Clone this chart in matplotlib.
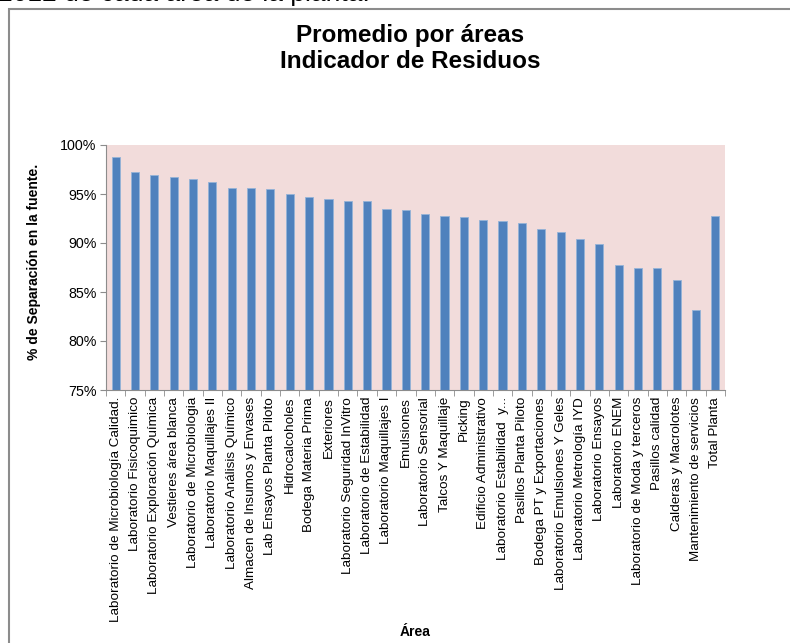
import matplotlib.pyplot as plt
from matplotlib.patches import Rectangle
from matplotlib.ticker import FixedLocator, PercentFormatter

plt.rcParams['font.family'] = ['Liberation Sans', 'DejaVu Sans']

# areas and average separation percentage
areas = [
    'Laboratorio de Microbiología Calidad.',
    'Laboratorio Fisicoquimico',
    'Laboratorio Exploración Química',
    'Vestieres área blanca',
    'Laboratorio de Microbiologia',
    'Laboratorio Maquillajes II',
    'Laboratorio Análisis Químico',
    'Almacen de Insumos y Envases',
    'Lab Ensayos Planta Piloto',
    'Hidrocalcoholes',
    'Bodega Materia Prima',
    'Exteriores',
    'Laboratorio Seguridad InVitro',
    'Laboratorio de Estabilidad',
    'Laboratorio Maquillajes I',
    'Emulsiones',
    'Laboratorio Sensorial',
    'Talcos Y Maquillaje',
    'Picking',
    'Edificio Administrativo',
    'Laboratorio Estabilidad  y...',
    'Pasillos Planta Piloto',
    'Bodega PT y Exportaciones',
    'Laboratorio Emulsiones Y Geles',
    'Laboratorio Metrología IYD',
    'Laboratorio Ensayos',
    'Laboratorio ENEM',
    'Laboratorio de Moda y terceros',
    'Pasillos calidad',
    'Calderas y Macrolotes',
    'Mantenimiento de servicios',
    'Total Planta',
]
values = [98.8, 97.2, 96.9, 96.7, 96.5, 96.2, 95.6, 95.6, 95.5, 95.0,
          94.7, 94.5, 94.3, 94.3, 93.5, 93.4, 93.0, 92.8, 92.7, 92.3,
          92.2, 92.0, 91.4, 91.1, 90.4, 89.9, 87.8, 87.5, 87.5, 86.2,
          83.2, 92.8]
y_ticks = [75, 80, 85, 90, 95, 100]

fig = plt.figure(figsize=(7.9, 6.43), dpi=100)

# text of the document above the chart (cut off at the top, as in the source page)
fig.text(-0.003, 1 - 0.8 / 643, '2012 de cada área de la planta.', fontsize=19,
         va='baseline', ha='left')

# chart frame
fig.patches.append(Rectangle((9 / 790, -0.1), 1.2, 1.1 - 9 / 643, transform=fig.transFigure,
                             fill=False, edgecolor='#8c8c8c', linewidth=1.5))

ax = fig.add_axes([106 / 790, 1 - 390 / 643, 619 / 790, 245 / 643])
ax.set_facecolor('#f2dcdb')

x = range(len(areas))
ax.bar(x, values, width=0.42, color='#4f81bd', edgecolor='#95b3d7', linewidth=0.6, zorder=2)

ax.set_xlim(-0.5, len(areas) - 0.5)
ax.set_ylim(75, 100)
ax.set_yticks(y_ticks)
ax.yaxis.set_major_formatter(PercentFormatter(decimals=0))
ax.tick_params(axis='y', labelsize=10.3, length=4, color='#8c8c8c', pad=3)

ax.set_xticks(list(x))
ax.set_xticklabels(areas, rotation=90, fontsize=9.7)
ax.tick_params(axis='x', which='major', length=0, pad=5)
ax.xaxis.set_minor_locator(FixedLocator([i - 0.5 for i in range(len(areas) + 1)]))
ax.tick_params(axis='x', which='minor', length=4, color='#8c8c8c')

for side in ['top', 'right']:
    ax.spines[side].set_visible(False)
for side in ['left', 'bottom']:
    ax.spines[side].set_color('#8c8c8c')

fig.text(34 / 790, 1 - 262 / 643, '% de Separación en la fuente.', fontsize=10,
         fontweight='bold', rotation=90, ha='center', va='center')
fig.text(415 / 790, 1 - 632 / 643, 'Área', fontsize=10, fontweight='bold', ha='center', va='center')

fig.text(410 / 790, 1 - 42 / 643, 'Promedio por áreas', fontsize=17.5,
         fontweight='bold', ha='center', va='baseline')
fig.text(410 / 790, 1 - 68 / 643, 'Indicador de Residuos', fontsize=17.5,
         fontweight='bold', ha='center', va='baseline')

fig.savefig('out.png', dpi=100)
